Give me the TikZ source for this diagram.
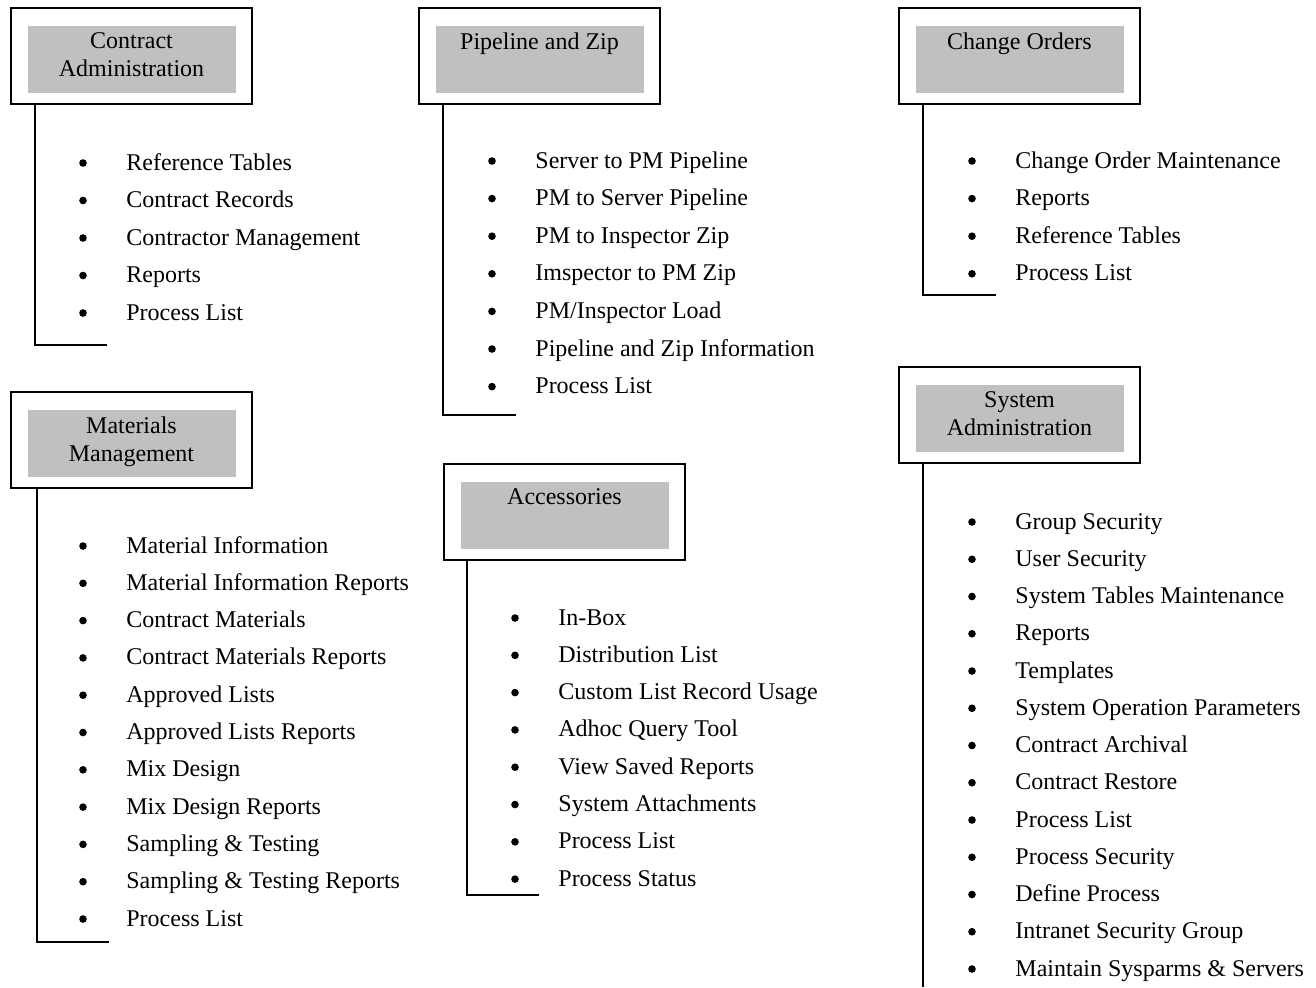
\documentclass[tikz,border=0pt]{standalone}
\usepackage{fontspec}
\setmainfont{Liberation Serif}
\usetikzlibrary{positioning}
\definecolor{headgrey}{HTML}{C0C0C0}
\newcommand{\twelve}{\fontsize{12}{14}\selectfont}

\tikzset{
  groupbox/.style={draw,line width=1pt,minimum width=120.5pt,minimum height=48pt,inner sep=0pt,anchor=north west},
  headbox/.style={fill=headgrey,minimum width=104pt,minimum height=33.5pt,inner sep=0pt},
  headtext/.style={align=center,inner sep=0pt,font=\twelve},
  itemtext/.style={anchor=base west,inner sep=0pt,font=\twelve},
  bul/.style={circle,fill,inner sep=0pt,minimum size=3.8pt},
  tree/.style={line width=1pt}
}

\begin{document}
\begin{tikzpicture}[x=0.5pt,y=-0.5pt]
\useasboundingbox (0,0) rectangle (1316,987);
% Contract Administration
\node[groupbox] (caBox) at (10,7) {};
\node[headbox,below=9.5pt of caBox.north] (caHead) {};
\node[headtext,below=3pt of caHead.north] (caTitle) {Contract\\Administration};
\coordinate (caTurn) at (35,345);
\coordinate (caTip) at (107,345);
\draw[tree] (caBox.south -| caTurn) -- (caTurn) -- (caTip);
\foreach \lab [count=\i from 0] in {Reference Tables,Contract Records,Contractor Management,Reports,Process List}{
  \node[bul] (caDot\i) at (83,163+37.5*\i) {};
  \node[itemtext] (ca\i) at (126,170+37.5*\i) {\lab};
}
% Pipeline and Zip
\node[groupbox] (pzBox) at (418,7) {};
\node[headbox,below=9.5pt of pzBox.north] (pzHead) {};
\node[headtext,below=3pt of pzHead.north] (pzTitle) {Pipeline and Zip};
\coordinate (pzTurn) at (443,415);
\coordinate (pzTip) at (516,415);
\draw[tree] (pzBox.south -| pzTurn) -- (pzTurn) -- (pzTip);
\foreach \lab [count=\i from 0] in {Server to PM Pipeline,PM to Server Pipeline,PM to Inspector Zip,Imspector to PM Zip,PM/Inspector Load,Pipeline and Zip Information,Process List}{
  \node[bul] (pzDot\i) at (492,161+37.6*\i) {};
  \node[itemtext] (pz\i) at (535,168+37.6*\i) {\lab};
}
% Change Orders
\node[groupbox] (coBox) at (898,7) {};
\node[headbox,below=9.5pt of coBox.north] (coHead) {};
\node[headtext,below=3pt of coHead.north] (coTitle) {Change Orders};
\coordinate (coTurn) at (923,295);
\coordinate (coTip) at (996,295);
\draw[tree] (coBox.south -| coTurn) -- (coTurn) -- (coTip);
\foreach \lab [count=\i from 0] in {Change Order Maintenance,Reports,Reference Tables,Process List}{
  \node[bul] (coDot\i) at (972,161+37.6*\i) {};
  \node[itemtext] (co\i) at (1015,168+37.6*\i) {\lab};
}
% Materials Management
\node[groupbox] (mmBox) at (10,391) {};
\node[headbox,below=9.5pt of mmBox.north] (mmHead) {};
\node[headtext,below=3pt of mmHead.north] (mmTitle) {Materials\\Management};
\coordinate (mmTurn) at (37,942);
\coordinate (mmTip) at (109,942);
\draw[tree] (mmBox.south -| mmTurn) -- (mmTurn) -- (mmTip);
\foreach \lab [count=\i from 0] in {Material Information,Material Information Reports,Contract Materials,Contract Materials Reports,Approved Lists,Approved Lists Reports,Mix Design,Mix Design Reports,Sampling \& Testing,Sampling \& Testing Reports,Process List}{
  \node[bul] (mmDot\i) at (83,546+37.3*\i) {};
  \node[itemtext] (mm\i) at (126,553+37.3*\i) {\lab};
}
% Accessories
\node[groupbox] (acBox) at (443,463) {};
\node[headbox,below=9.5pt of acBox.north] (acHead) {};
\node[headtext,below=3pt of acHead.north] (acTitle) {Accessories};
\coordinate (acTurn) at (467,895);
\coordinate (acTip) at (539,895);
\draw[tree] (acBox.south -| acTurn) -- (acTurn) -- (acTip);
\foreach \lab [count=\i from 0] in {In-Box,Distribution List,Custom List Record Usage,Adhoc Query Tool,View Saved Reports,System Attachments,Process List,Process Status}{
  \node[bul] (acDot\i) at (515,618+37.3*\i) {};
  \node[itemtext] (ac\i) at (558,625+37.3*\i) {\lab};
}
% System Administration
\node[groupbox] (saBox) at (898,366) {};
\node[headbox,below=9.5pt of saBox.north] (saHead) {};
\node[headtext,below=3pt of saHead.north] (saTitle) {System\\Administration};
\coordinate (saTurn) at (923,987);
\draw[tree] (saBox.south -| saTurn) -- (saTurn);
\foreach \lab [count=\i from 0] in {Group Security,User Security,System Tables Maintenance,Reports,Templates,System Operation Parameters,Contract Archival,Contract Restore,Process List,Process Security,Define Process,Intranet Security Group,Maintain Sysparms \& Servers}{
  \node[bul] (saDot\i) at (972,522+37.25*\i) {};
  \node[itemtext] (sa\i) at (1015,529+37.25*\i) {\lab};
}
\end{tikzpicture}
\end{document}
